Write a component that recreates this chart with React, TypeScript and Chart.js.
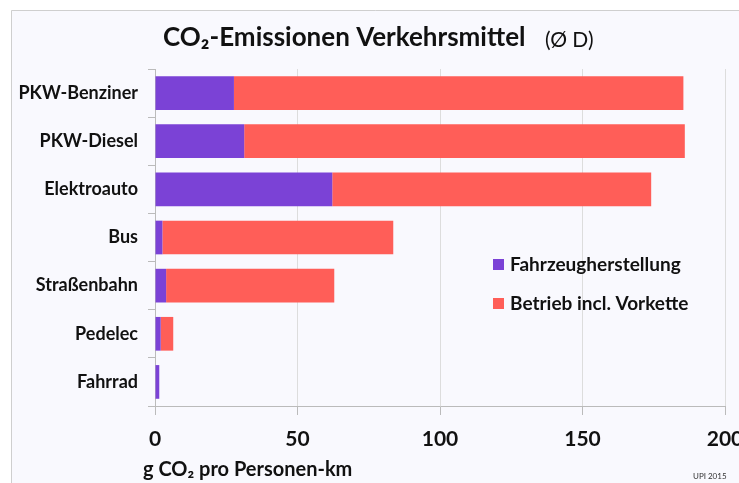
import React, { useEffect, useRef } from "react";
import { Chart, registerables } from "chart.js";

Chart.register(...registerables);

const categories = ["PKW-Benziner", "PKW-Diesel", "Elektroauto", "Bus", "Straßenbahn", "Pedelec", "Fahrrad"];
const herstellung = [27.7, 31.3, 62.2, 2.6, 3.9, 2.0, 1.5];
const betrieb = [157.7, 154.6, 111.9, 81.0, 59.0, 4.4, 0];
const xTicks = [0, 50, 100, 150, 200];
const seriesLabels = ["Fahrzeugherstellung", "Betrieb incl. Vorkette"];
const seriesColors = ["#7B42D6", "#FF5E58"];
const titleText = "CO₂-Emissionen Verkehrsmittel";
const titleSuffix = "(Ø D)";
const xAxisTitle = "g CO₂ pro Personen-km";
const sourceText = "UPI 2015";

const FONT = "Lato, 'Open Sans', sans-serif";

const decorPlugin = {
  id: "decor",
  beforeDraw(chart: any) {
    const { ctx, width, height } = chart;
    ctx.save();
    ctx.fillStyle = "#FFFFFF";
    ctx.fillRect(0, 0, width, height);
    ctx.fillStyle = "#F9F9FE";
    ctx.fillRect(11, 10, width - 11, height - 10);
    ctx.strokeStyle = "#CFCFCF";
    ctx.lineWidth = 1;
    ctx.beginPath();
    ctx.moveTo(11.5, height);
    ctx.lineTo(11.5, 10.5);
    ctx.lineTo(width, 10.5);
    ctx.stroke();
    ctx.restore();
  },
  afterDraw(chart: any) {
    const { ctx } = chart;
    ctx.save();
    ctx.fillStyle = "#111111";
    ctx.textBaseline = "middle";
    ctx.textAlign = "left";
    ctx.font = `bold 26px ${FONT}`;
    ctx.fillText(titleText, 163, 38);
    ctx.font = `21px ${FONT}`;
    ctx.fillText(titleSuffix, 545, 40);

    // legend
    const ly = [265, 304];
    seriesLabels.forEach((lab, i) => {
      ctx.fillStyle = seriesColors[i];
      ctx.fillRect(493, ly[i] - 6, 11, 11);
      ctx.fillStyle = "#111111";
      ctx.font = `bold 19px ${FONT}`;
      ctx.fillText(lab, 510, ly[i]);
    });

    ctx.font = `bold 20px ${FONT}`;
    ctx.fillText(xAxisTitle, 143, 470);

    ctx.font = `8px ${FONT}`;
    ctx.fillStyle = "#333333";
    ctx.fillText(sourceText, 693, 476);
    ctx.restore();
  },
};

export default function App() {
  const ref = useRef<HTMLCanvasElement>(null);
  useEffect(() => {
    document.body.style.margin = "0";
    const chart = new Chart(ref.current!, {
      type: "bar",
      data: {
        labels: categories,
        datasets: [
          {
            label: seriesLabels[0],
            data: herstellung,
            backgroundColor: seriesColors[0],
            barPercentage: 0.7,
            categoryPercentage: 1.0,
          },
          {
            label: seriesLabels[1],
            data: betrieb,
            backgroundColor: seriesColors[1],
            barPercentage: 0.7,
            categoryPercentage: 1.0,
          },
        ],
      },
      options: {
        indexAxis: "y",
        responsive: false,
        animation: false,
        layout: { padding: { top: 69, right: 14, left: 0, bottom: 0 } },
        plugins: {
          legend: { display: false },
          tooltip: { enabled: false },
          title: { display: false },
        },
        scales: {
          x: {
            stacked: true,
            min: 0,
            max: 200,
            afterBuildTicks: (s: any) => {
              s.ticks = xTicks.map((v) => ({ value: v }));
            },
            ticks: {
              font: { family: FONT, size: 21, weight: "bold" },
              color: "#111111",
              padding: 12,
              maxRotation: 0,
            },
            grid: { color: "#DDDDDD", tickLength: 9, tickColor: "#BBBBBB" },
            border: { color: "#BBBBBB" },
            afterFit: (s: any) => {
              s.height = 77;
              s.paddingLeft = 0;
              s.paddingRight = 0;
            },
          },
          y: {
            stacked: true,
            ticks: {
              font: { family: FONT, size: 18, weight: "bold" },
              color: "#111111",
              padding: 10,
            },
            grid: { drawOnChartArea: false, offset: true, tickLength: 7, color: "#BBBBBB" },
            border: { color: "#BBBBBB" },
            afterFit: (s: any) => {
              s.width = 155;
              s.paddingTop = 0;
              s.paddingBottom = 0;
            },
          },
        },
      } as any,
      plugins: [decorPlugin],
    });
    return () => chart.destroy();
  }, []);
  return (
    <div style={{ width: 739, height: 483 }}>
      <canvas ref={ref} width={739} height={483} />
    </div>
  );
}
